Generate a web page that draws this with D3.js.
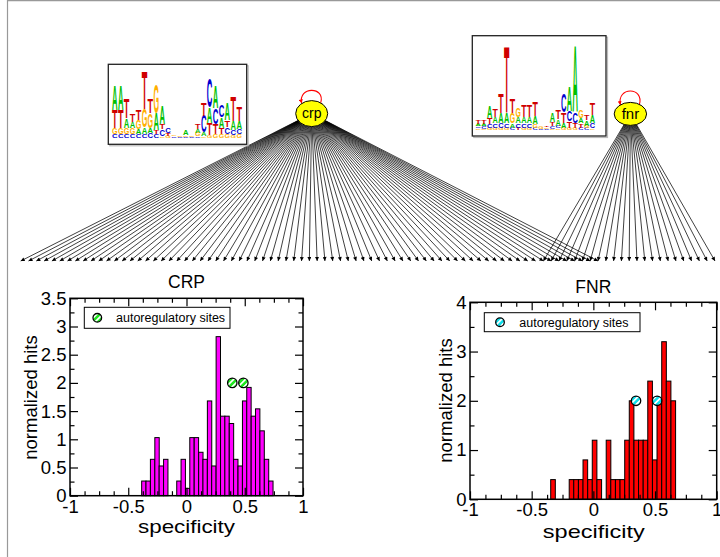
<!DOCTYPE html>
<html><head><meta charset="utf-8">
<script src="https://cdn.jsdelivr.net/npm/d3@7"></script>
<style>
body{margin:0;background:#fff}
svg{display:block;font-family:"Liberation Sans",Arial,Helvetica,sans-serif}
</style>
</head><body>
<svg id="c" width="720" height="557"></svg>
<script>
// ---------------- DATA ----------------
const xTickLabels = [-1, -0.5, 0, 0.5, 1];
const crpYTickLabels = [0, 0.5, 1, 1.5, 2, 2.5, 3, 3.5];
const fnrYTickLabels = [0, 1, 2, 3, 4];

const crpBinCenters = [-0.366,-0.329,-0.291,-0.253,-0.216,-0.178,-0.141,-0.103,-0.065,-0.028,
  0.010,0.047,0.085,0.123,0.160,0.198,0.235,0.273,0.311,0.348,
  0.386,0.423,0.461,0.499,0.536,0.574,0.611,0.649,0.687,0.724];
const crpHits = [0.26,0.26,0.645,1.03,0.527,0.645,0,0,0.26,0.645,
  0.13,1.03,1.03,0.77,0.645,1.68,0.527,2.82,1.41,1.41,
  1.28,0.645,0.527,1.68,1.92,1.41,1.54,1.15,0.645,0.26];
const crpBinWidth = 0.0376;

const fnrBinCenters = [-0.327,-0.290,-0.252,-0.215,-0.177,-0.140,-0.102,-0.065,-0.027,
  0.010,0.048,0.085,0.123,0.160,0.198,0.235,0.273,0.310,0.348,
  0.385,0.423,0.460,0.498,0.535,0.573,0.610,0.648];
const fnrHits = [0.4,0,0,0,0.4,0.4,0.4,0.8,0.4,
  1.2,0.4,0,1.2,0.4,0.4,0.4,1.2,2.0,1.2,
  1.2,1.2,2.4,0.8,2.0,3.2,2.4,2.0];
const fnrBinWidth = 0.0375;

const crpAutoSpec = [0.393, 0.488];
const crpAutoHits = [2.0, 2.0];
const fnrAutoSpec = [0.346, 0.517];
const fnrAutoHits = [2.0, 2.0];

const legendLabel = "autoregulatory sites";

// network: target genes along the bottom row (index), and which ones each TF regulates
const targetGenes = d3.range(90);
const crpTargets = targetGenes.slice(0, 75);
const fnrTargets = targetGenes.slice(67, 90);

// sequence logos: columns, letters bottom->top with heights in bits
const crpLogo = [
  [["C",.1],["G",.17],["T",.52],["A",.71]],
  [["C",.1],["G",.17],["T",.52],["A",.71]],
  [["C",.1],["G",.17],["A",.28],["T",.57]],
  [["C",.1],["G",.17],["A",.18],["T",.22]],
  [["C",.1],["A",.15],["G",.25],["T",.3]],
  [["C",.12],["A",.18],["G",.52],["T",1.08]],
  [["C",.14],["A",.14],["G",.43],["T",.4]],
  [["C",.12],["T",.1],["A",.48],["G",.85]],
  [["G",.05],["C",.19],["T",.14],["A",.52]],
  [["G",.06],["T",.08],["C",.15]],
  [["C",.04],["G",.05]],
  [["C",.03],["G",.04]],
  [["C",.03],["G",.05],["A",.13]],
  [["C",.02],["G",.04]],
  [["C",.04],["G",.1],["A",.1],["T",.16]],
  [["G",.05],["A",.1],["C",.48],["T",.38]],
  [["G",.08],["T",.35],["A",.45],["C",.85]],
  [["G",.1],["T",.3],["C",.45],["A",.65]],
  [["G",.1],["T",.19],["A",.29],["C",.33]],
  [["G",.1],["C",.2],["T",.2],["A",.5]],
  [["G",.08],["C",.15],["A",.25],["T",.7]],
  [["G",.1],["C",.15],["A",.24],["T",.43]]
];
const fnrLogo = [
  [["G",.04],["C",.04],["A",.06],["T",.08]],
  [["G",.03],["C",.05],["A",.06],["T",.08]],
  [["G",.05],["C",.08],["T",.15],["A",.26]],
  [["G",.05],["C",.1],["A",.15],["T",.17]],
  [["G",.05],["C",.11],["A",.23],["T",.45]],
  [["G",.05],["C",.1],["A",.23],["T",1.55]],
  [["C",.05],["A",.1],["G",.23],["T",.33]],
  [["T",.05],["C",.1],["A",.15],["G",.21]],
  [["G",.05],["C",.1],["A",.15],["T",.28]],
  [["G",.05],["C",.1],["A",.15],["T",.28]],
  [["C",.05],["G",.08],["A",.19],["T",.33]],
  [["C",.03],["G",.06]],
  [["C",.03],["G",.04],["T",.04]],
  [["G",.03],["C",.05],["T",.1],["A",.2]],
  [["G",.04],["C",.06],["A",.14],["T",.2]],
  [["G",.05],["A",.12],["T",.23],["C",.42]],
  [["G",.05],["T",.15],["C",.23],["A",.57]],
  [["G",.05],["T",.12],["C",.23],["A",1.55]],
  [["C",.05],["T",.1],["A",.12],["G",.19]],
  [["C",.05],["G",.05],["A",.12],["T",.12]],
  [["G",.04],["C",.11],["A",.19],["T",.28]]
];
const logoColors = {A:"#00c000", C:"#0000d0", G:"#ffb000", T:"#d00000"};

// ---------------- DRAWING ----------------
const svg = d3.select("#c");
const defs = svg.append("defs");
defs.append("marker").attr("id","ah").attr("viewBox","0 0 10 10").attr("refX",10).attr("refY",5)
  .attr("markerWidth",5).attr("markerHeight",4).attr("markerUnits","userSpaceOnUse").attr("orient","auto")
  .append("path").attr("d","M0,0L10,5L0,10z").attr("fill","#000");
defs.append("marker").attr("id","ahr").attr("viewBox","0 0 10 10").attr("refX",10).attr("refY",5)
  .attr("markerWidth",5).attr("markerHeight",4).attr("markerUnits","userSpaceOnUse").attr("orient","auto")
  .append("path").attr("d","M0,0L10,5L0,10z").attr("fill","#f00");
function hatch(id, color){
  const p = defs.append("pattern").attr("id",id).attr("patternUnits","userSpaceOnUse")
    .attr("width",4.2).attr("height",4.2).attr("patternTransform","rotate(45)");
  p.append("rect").attr("width",4.2).attr("height",4.2).attr("fill",color);
  p.append("rect").attr("width",1.7).attr("height",4.2).attr("fill","#fff");
}
hatch("hG","#1ee61e");
hatch("hC","#10e0ec");

// frame lines
svg.append("line").attr("x1",7.5).attr("x2",7.5).attr("y1",0).attr("y2",557).attr("stroke","#999").attr("stroke-width",1.2);
svg.append("line").attr("x1",7.5).attr("x2",720).attr("y1",0.6).attr("y2",0.6).attr("stroke","#999").attr("stroke-width",1.2);

// ---- network ----
const tx = d3.scalePoint().domain(targetGenes).range([20.7, 715]);
const targetY = 261;
const nodes = {
  crp:{cx:311.7, cy:113.6, rx:16, ry:13, targets:crpTargets, label:"crp", ty:118},
  fnr:{cx:630.4, cy:113.9, rx:16.2, ry:11.5, targets:fnrTargets, label:"fnr", ty:119}
};
function edgeStart(n, x, y){
  const dx = x - n.cx, dy = y - n.cy;
  const t = 1/Math.sqrt((dx/n.rx)**2 + (dy/n.ry)**2);
  return [n.cx + dx*t, n.cy + dy*t];
}
const edgeG = svg.append("g");
Object.values(nodes).forEach(n => {
  edgeG.selectAll(null).data(n.targets).join("line")
    .attr("x1", d => edgeStart(n, tx(d), targetY)[0])
    .attr("y1", d => edgeStart(n, tx(d), targetY)[1])
    .attr("x2", d => tx(d)).attr("y2", targetY)
    .attr("stroke","#000").attr("stroke-width",0.75).attr("marker-end","url(#ah)");
});
Object.values(nodes).forEach(n => {
  const yo = n.ry*0.82;
  svg.append("path")
    .attr("d",`M${n.cx+9},${n.cy-yo} C${n.cx+14},${n.cy-27.5} ${n.cx-14},${n.cy-27.5} ${n.cx-10},${n.cy-yo+0.5}`)
    .attr("fill","none").attr("stroke","#f00").attr("stroke-width",1.1).attr("marker-end","url(#ahr)");
  svg.append("ellipse").attr("cx",n.cx).attr("cy",n.cy).attr("rx",n.rx).attr("ry",n.ry)
    .attr("fill","#ffff00").attr("stroke","#000").attr("stroke-width",1);
  svg.append("text").attr("x",n.cx).attr("y",n.ty).attr("text-anchor","middle")
    .attr("font-size",n.label==="crp"?14:15).text(n.label);
});

// ---- logos ----
const advW = {A:.722, C:.722, G:.778, T:.611};
function drawLogo(cols, box, lx0, lx1, base, pxPer2bits){
  svg.append("rect").attr("x",box[0]+1.5).attr("y",box[1]+1.5).attr("width",box[2]-box[0]).attr("height",box[3]-box[1])
    .attr("fill","none").attr("stroke","#bbb").attr("stroke-width",1.2);
  svg.append("rect").attr("x",box[0]).attr("y",box[1]).attr("width",box[2]-box[0]).attr("height",box[3]-box[1])
    .attr("fill","#fff").attr("stroke","#222").attr("stroke-width",1.3);
  const bx = d3.scaleBand().domain(d3.range(cols.length)).range([lx0,lx1]).paddingInner(0.06);
  const by = d3.scaleLinear().domain([0,2]).range([base, base - pxPer2bits]);
  const g = svg.append("g");
  cols.forEach((col,i) => {
    let acc = 0;
    col.forEach(([L,h]) => {
      const yb = by(acc), yt = by(acc+h); acc += h;
      const w = bx.bandwidth(), hh = yb - yt;
      g.append("text").attr("font-size",100).attr("font-weight","bold").attr("fill",logoColors[L])
        .attr("transform",`translate(${bx(i)},${yb}) scale(${w/(advW[L]*100)},${hh/71.6})`)
        .text(L);
    });
  });
}
drawLogo(crpLogo, [108.3,64.3,246.7,144.3], 112, 242, 137.7, 70);
drawLogo(fnrLogo, [472.3,35.7,606,136], 475.5, 595, 130, 88);

// ---- histograms ----
function drawHist(o){
  const x = d3.scaleLinear().domain([-1,1]).range([o.left,o.right]);
  const y = d3.scaleLinear().domain([0,o.ymax]).range([o.bottom,o.top]);
  const g = svg.append("g");
  const bars = o.centers.map((c,i)=>({c, h:o.hits[i]})).filter(d=>d.h>0);
  g.selectAll(".bar").data(bars).join("rect")
    .attr("x", d=>x(d.c-o.bw/2)).attr("y", d=>y(d.h))
    .attr("width", d=>x(d.c+o.bw/2)-x(d.c-o.bw/2)).attr("height", d=>y(0)-y(d.h))
    .attr("fill",o.color).attr("stroke","#000").attr("stroke-width",1);
  function minors(maj, n){ const r=[]; for(let i=0;i<maj.length-1;i++){ for(let k=1;k<n;k++) r.push(maj[i]+(maj[i+1]-maj[i])*k/n);} return r; }
  const xMin = minors(o.xt, 4), yMin = minors(o.yt, o.ySub);
  const fmt = d => String(d);
  const style = s => { s.select(".domain").remove(); s.selectAll("line").attr("stroke","#000").attr("stroke-width",1.2);
    s.selectAll("text").attr("font-size",18.5).attr("font-family",'"Liberation Sans",Arial,sans-serif').attr("fill","#000"); s.attr("font-family",null).attr("font-size",null); };
  g.append("g").attr("transform",`translate(0,${o.bottom})`).call(d3.axisBottom(x).tickValues(o.xt).tickSize(-8).tickPadding(4).tickFormat(fmt)).call(style);
  g.append("g").attr("transform",`translate(0,${o.bottom})`).call(d3.axisBottom(x).tickValues(xMin).tickSize(-4.5).tickFormat("")).call(style);
  g.append("g").attr("transform",`translate(0,${o.top})`).call(d3.axisTop(x).tickValues(o.xt).tickSize(-8).tickFormat("")).call(style);
  g.append("g").attr("transform",`translate(0,${o.top})`).call(d3.axisTop(x).tickValues(xMin).tickSize(-4.5).tickFormat("")).call(style);
  g.append("g").attr("transform",`translate(${o.left},0)`).call(d3.axisLeft(y).tickValues(o.yt).tickSize(-8).tickPadding(3.5).tickFormat(fmt)).call(style);
  g.append("g").attr("transform",`translate(${o.left},0)`).call(d3.axisLeft(y).tickValues(yMin).tickSize(-4.5).tickFormat("")).call(style);
  g.append("g").attr("transform",`translate(${o.right},0)`).call(d3.axisRight(y).tickValues(o.yt).tickSize(-8).tickFormat("")).call(style);
  g.append("g").attr("transform",`translate(${o.right},0)`).call(d3.axisRight(y).tickValues(yMin).tickSize(-4.5).tickFormat("")).call(style);
  g.append("rect").attr("x",o.left).attr("y",o.top).attr("width",o.right-o.left).attr("height",o.bottom-o.top)
    .attr("fill","none").attr("stroke","#000").attr("stroke-width",1.5);
  g.selectAll(".auto").data(o.autoX.map((v,i)=>[v,o.autoY[i]])).join("circle")
    .attr("cx",d=>x(d[0])).attr("cy",d=>y(d[1])).attr("r",4.7)
    .attr("fill",`url(#${o.hatch})`).attr("stroke","#000").attr("stroke-width",1.3);
  const L = o.legend;
  g.append("rect").attr("x",L[0]).attr("y",L[1]).attr("width",L[2]-L[0]).attr("height",L[3]-L[1])
    .attr("fill","#fff").attr("stroke","#000").attr("stroke-width",1);
  g.append("circle").attr("cx",L[4]).attr("cy",(L[1]+L[3])/2).attr("r",4.3)
    .attr("fill",`url(#${o.hatch})`).attr("stroke","#000").attr("stroke-width",1.3);
  g.append("text").attr("x",L[5]).attr("y",(L[1]+L[3])/2+4.3).attr("font-size",12.5).text(legendLabel);
  g.append("text").attr("x",(o.left+o.right)/2).attr("y",o.titleY).attr("text-anchor","middle").attr("font-size",o.titleSize).text(o.title);
  g.append("text").attr("x",o.xlabX).attr("y",o.xlabY).attr("text-anchor","middle").attr("font-size",19)
    .attr("textLength",o.xlabW).attr("lengthAdjust","spacingAndGlyphs").text("specificity");
  g.append("text").attr("transform",`translate(${o.ylabX},${o.ylabY}) rotate(-90)`).attr("text-anchor","middle").attr("font-size",18.5).text("normalized hits");
}

drawHist({left:70, right:303, top:298.3, bottom:495.7, ymax:3.5, xt:xTickLabels, yt:crpYTickLabels, ySub:2,
  centers:crpBinCenters, hits:crpHits, bw:crpBinWidth, color:"#ff00ff",
  autoX:crpAutoSpec, autoY:crpAutoHits, hatch:"hG",
  legend:[84.3,307.3,230,328.3,97.3,116], title:"CRP", titleY:288.3, titleSize:17.5,
  xlabX:186.5, xlabY:533, xlabW:97, ylabX:36.5, ylabY:397.5});

drawHist({left:470, right:716.7, top:302.3, bottom:499.3, ymax:4, xt:xTickLabels, yt:fnrYTickLabels, ySub:2,
  centers:fnrBinCenters, hits:fnrHits, bw:fnrBinWidth, color:"#ff0000",
  autoX:fnrAutoSpec, autoY:fnrAutoHits, hatch:"hC",
  legend:[484.3,312.7,640,331.7,500,519.3], title:"FNR", titleY:293, titleSize:17.5,
  xlabX:593.8, xlabY:537.5, xlabW:102, ylabX:451.5, ylabY:400.5});
</script>
</body></html>
